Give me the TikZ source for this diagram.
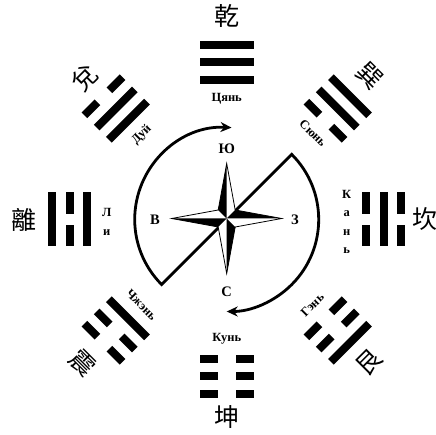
\documentclass[tikz,border=0pt]{standalone}
\usepackage{fontspec}
\setmainfont{Liberation Serif}
\newfontfamily\cjk{Noto Sans CJK TC}
\usetikzlibrary{arrows.meta}

\tikzset{
  lbl/.style={font=\bfseries\fontsize{12.5}{14}\selectfont, inner sep=0pt},
  vlbl/.style={font=\bfseries\fontsize{12.5}{18.3}\selectfont, inner sep=0pt, align=center},
  hz/.style={font=\cjk\fontsize{25}{25}\selectfont, inner sep=0pt},
  dirl/.style={font=\bfseries\fontsize{14.5}{14}\selectfont, inner sep=0pt},
  ring/.style={line width=2.8pt, line join=miter, >={Stealth[length=11pt,width=10pt]}},
}

% bars of a trigram: #1 radius, #2 half gap
\newcommand\solidbar[1]{\fill (-27,#1-4) -- (27,#1-4) -- (27,#1+4) -- (-27,#1+4) -- cycle;}
\newcommand\brokenbar[2]{%
  \fill (-27,#1-4) -- (-#2,#1-4) -- (-#2,#1+4) -- (-27,#1+4) -- cycle;
  \fill (#2,#1-4) -- (27,#1-4) -- (27,#1+4) -- (#2,#1+4) -- cycle;}

\begin{document}
\begin{tikzpicture}[x=1pt,y=1pt]
\useasboundingbox (-226.7,-215.5) rectangle (209.3,219.5);

% ---- trigrams (inner line = bottom line)
\begin{scope}[rotate=0]
  \solidbar{139.7}\solidbar{157}\solidbar{174.3}
\end{scope}
\begin{scope}[rotate=180]
  \brokenbar{139.7}{9}\brokenbar{157}{9}\brokenbar{174.3}{9}
\end{scope}
\begin{scope}[rotate=90]
  \solidbar{139.7}\brokenbar{157}{5.5}\solidbar{174.3}
\end{scope}
\begin{scope}[rotate=-90]
  \brokenbar{139.7}{5.5}\solidbar{157}\brokenbar{174.3}{5.5}
\end{scope}
\begin{scope}[rotate=45]
  \solidbar{139.7}\solidbar{157}\brokenbar{174.3}{8.5}
\end{scope}
\begin{scope}[rotate=-45]
  \brokenbar{139.7}{8.5}\solidbar{157}\solidbar{174.3}
\end{scope}
\begin{scope}[rotate=135]
  \solidbar{139.7}\brokenbar{157}{8.5}\brokenbar{174.3}{8.5}
\end{scope}
\begin{scope}[rotate=-135]
  \brokenbar{139.7}{8.5}\brokenbar{157}{8.5}\solidbar{174.3}
\end{scope}

% ---- trigram names
\node[lbl] (nqian) at (90:121) {Цянь};
\node[lbl] (nkun) at (-90:119) {Кунь};
\node[lbl, rotate=45] (ndui) at (135:120) {Дуй};
\node[lbl, rotate=-45] (nxun) at (45:122) {Сюнь};
\node[lbl, rotate=-45] (nzhen) at (225:120.5) {Чжэнь};
\node[lbl, rotate=45] (ngen) at (-45:121) {Гэнь};
\node[vlbl] (nli) at (-120,-2.5) {Л\\и};
\node[vlbl] (nkan) at (120,-2.5) {К\\а\\н\\ь};

% ---- Chinese characters
\node[hz] (hqian) at (90:203) {乾};
\node[hz] (hkun) at (-90:198) {坤};
\node[hz] (hli) at (180:203) {離};
\node[hz] (hkan) at (0:198) {坎};
\node[hz, rotate=45] (hdui) at (135:200) {兌};
\node[hz, rotate=-45] (hxun) at (45:203) {巽};
\node[hz, rotate=-45] (hzhen) at (225:203) {震};
\node[hz, rotate=45] (hgen) at (-45:201.5) {艮};

% ---- ring with arrows
\draw[ring, <->] (87:92) arc[start angle=87, end angle=225, radius=92]
  -- (45:92) arc[start angle=45, end angle=-90, radius=92];

% ---- compass rose
\begin{scope}[shift={(0,1)}]
\filldraw[fill=white, draw=black, line width=0.8pt, line join=miter]
  (0,55) -- (8.5,8.5) -- (55,0) -- (8.5,-8.5) -- (0,-55) -- (-8.5,-8.5) -- (-55,0) -- (-8.5,8.5) -- cycle;
\fill (0,55) -- (0,0) -- (-8.5,8.5) -- cycle;
\fill (55,0) -- (0,0) -- (8.5,8.5) -- cycle;
\fill (0,-55) -- (0,0) -- (8.5,-8.5) -- cycle;
\fill (-55,0) -- (0,0) -- (-8.5,-8.5) -- cycle;
\end{scope}

% ---- directions
\node[dirl] (dS) at (0,71.2) {Ю};
\node[dirl] (dN) at (0,-72.2) {С};
\node[dirl] (dE) at (-71.7,-0.5) {В};
\node[dirl] (dW) at (68.3,-0.5) {З};
\end{tikzpicture}
\end{document}
